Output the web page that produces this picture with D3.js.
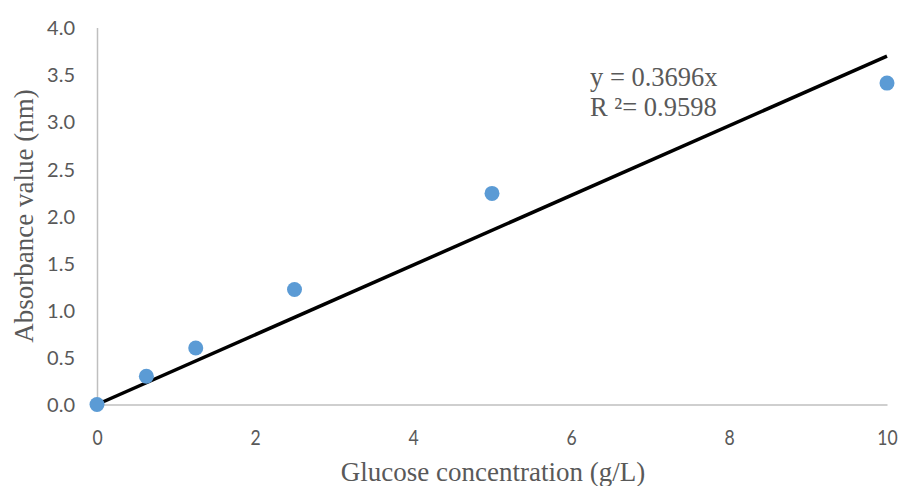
<!DOCTYPE html>
<html><head><meta charset="utf-8">
<script src="https://cdn.jsdelivr.net/npm/d3@7"></script>
<style>body{margin:0;background:#fff}</style>
</head><body><svg id="c" width="902" height="486"></svg>
<script>
const xs = [0, 0.625, 1.25, 2.5, 5, 10];
const ys = [0, 0.30, 0.60, 1.22, 2.24, 3.41];
const xTicks = [0, 2, 4, 6, 8, 10];
const yTicks = [0, 0.5, 1, 1.5, 2, 2.5, 3, 3.5, 4];
const slope = 0.3696;
const eqText = "y = 0.3696x";
const r2Text = "R ²= 0.9598";

const svg = d3.select("#c");
const x = d3.scaleLinear().domain([0, 10]).range([97, 887]);
const y = d3.scaleLinear().domain([0, 4]).range([404.5, 27.5]);
const grey = "#595959";
const sans = "Lato, 'Open Sans', sans-serif";
const serif = "'Liberation Serif', 'Times New Roman', serif";

// axes
const xa = svg.append("g").attr("transform", `translate(0,${y(0)})`)
  .call(d3.axisBottom(x).tickValues(xTicks).tickSize(0).tickPadding(0).tickFormat(d3.format("d")));
const ya = svg.append("g").attr("transform", `translate(${x(0)},0)`)
  .call(d3.axisLeft(y).tickValues(yTicks).tickSize(0).tickPadding(22).tickFormat(d3.format(".1f")));
[xa, ya].forEach(a => a.select(".domain").attr("stroke", "#bfbfbf").attr("stroke-width", 1.5));
ya.selectAll("text").attr("fill", grey).style("font-family", sans).style("font-size", "20px").attr("dy", "0.36em");
xa.selectAll("text").attr("fill", grey).style("font-family", sans).style("font-size", "22px")
  .attr("y", null).attr("dy", null)
  .attr("transform", "translate(0,40) scale(0.8,1)");

// trendline
svg.append("line")
  .attr("x1", x(0)).attr("y1", y(0)).attr("x2", x(10)).attr("y2", y(slope * 10))
  .attr("stroke", "#000").attr("stroke-width", 3.5);

// points
svg.selectAll("circle.p").data(xs.map((v, i) => [v, ys[i]])).enter().append("circle")
  .attr("cx", d => x(d[0])).attr("cy", d => y(d[1])).attr("r", 7.5).attr("fill", "#5B9BD5");

// equation
svg.append("text").attr("x", 590).attr("y", 86).text(eqText)
  .attr("fill", grey).style("font-family", serif).style("font-size", "26.5px");
svg.append("text").attr("x", 590).attr("y", 116).text(r2Text)
  .attr("fill", grey).style("font-family", serif).style("font-size", "26.5px");

// axis titles
svg.append("text").attr("x", 493).attr("y", 481).attr("text-anchor", "middle")
  .text("Glucose concentration (g/L)").attr("fill", grey).style("font-family", serif).style("font-size", "27px");
svg.append("text").attr("transform", "translate(33,216) rotate(-90)").attr("text-anchor", "middle")
  .text("Absorbance value (nm)").attr("fill", grey).style("font-family", serif).style("font-size", "27px");
</script></body></html>
